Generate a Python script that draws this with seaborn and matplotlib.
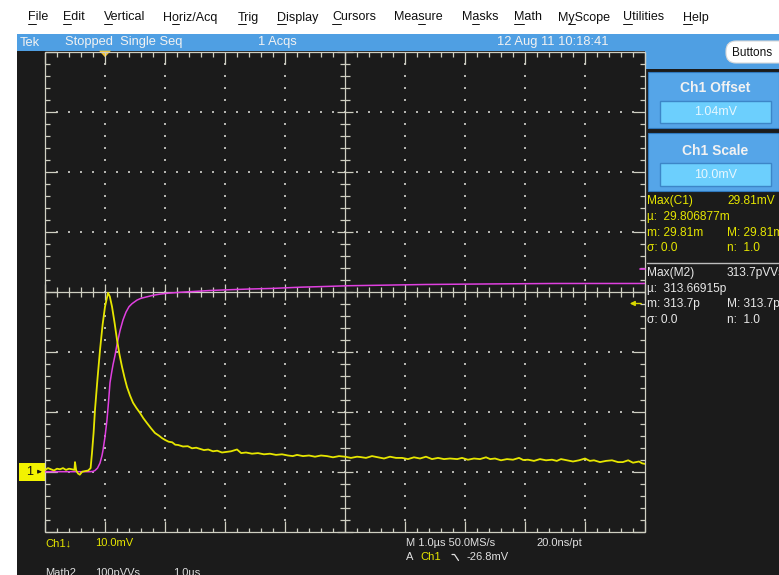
import matplotlib
matplotlib.use("Agg")
import matplotlib.pyplot as plt
import seaborn as sns
from matplotlib import font_manager
from matplotlib.collections import LineCollection
from matplotlib.patches import Rectangle, FancyBboxPatch, Polygon

# ---- acquired waveforms ----
# Ch1 (inverted display), time in microseconds, amplitude in mV
ch1_time_us = [
    -1.00, -0.95, -0.90, -0.85, -0.80, -0.75, -0.70, -0.65, -0.60, -0.55,
    -0.51, -0.50, -0.48, -0.45, -0.42, -0.38, -0.33, -0.28, -0.24, -0.217,
    -0.19, -0.167, -0.125, -0.083, -0.04, 0.0, 0.05, 0.08, 0.117, 0.16,
    0.20, 0.24, 0.283, 0.325, 0.367, 0.417, 0.467, 0.525, 0.583, 0.64,
    0.70, 0.77, 0.833, 0.90, 0.95, 1.00, 1.06, 1.12, 1.17, 1.22,
    1.30, 1.38, 1.45, 1.52, 1.583, 1.65, 1.72, 1.80, 1.87, 1.95,
    2.03, 2.10, 2.20, 2.27, 2.35, 2.45, 2.55, 2.65, 2.75, 2.85,
    2.95, 3.05, 3.13, 3.20, 3.30, 3.40, 3.50, 3.60, 3.70, 3.80,
    3.90, 4.00, 4.10, 4.20, 4.25, 4.35, 4.45, 4.55, 4.65, 4.75,
    4.85, 4.95, 5.05, 5.15, 5.25, 5.35, 5.45, 5.55, 5.65, 5.75,
    5.87, 5.95, 6.05, 6.15, 6.25, 6.35, 6.42, 6.50, 6.60, 6.70,
    6.80, 6.90, 6.97, 7.05, 7.15, 7.25, 7.35, 7.45, 7.53, 7.60,
    7.70, 7.80, 7.90, 8.00, 8.08, 8.15, 8.25, 8.35, 8.45, 8.55,
    8.63, 8.72, 8.80, 8.90, 8.95, 9.00,
]
ch1_mV = [
    0.3, 0.6, 0.4, 0.2, 0.5, 0.4, 0.6, 0.3, 0.5, 0.4,
    0.3, 1.6, 0.2, -0.3, -0.5, 0.0, 0.1, 0.2, 0.6, 3.1,
    6.5, 10.3, 15.5, 20.3, 24.5, 27.5, 29.81, 29.2, 27.5, 24.8,
    22.0, 19.6, 17.5, 15.7, 14.1, 12.7, 11.5, 10.6, 9.8, 8.9,
    8.1, 7.2, 6.45, 6.0, 5.6, 5.3, 5.0, 4.9, 4.5, 4.45,
    4.2, 4.25, 3.9, 4.0, 3.8, 3.6, 3.7, 3.4, 3.5, 3.2,
    3.3, 3.4, 3.7, 3.1, 3.2, 3.0, 3.1, 2.9, 3.0, 2.8,
    2.9, 2.7, 2.6, 2.8, 2.6, 2.7, 2.5, 2.7, 2.6, 2.4,
    2.6, 2.5, 2.3, 2.5, 2.45, 2.3, 2.6, 2.4, 2.2, 2.5,
    2.3, 2.3, 2.1, 2.4, 2.2, 2.5, 2.1, 2.3, 2.1, 2.2,
    2.1, 2.3, 2.0, 2.2, 2.1, 2.4, 2.1, 2.2, 1.9, 2.1,
    2.0, 2.3, 1.95, 2.0, 1.8, 2.1, 1.9, 2.0, 1.8, 2.1,
    1.9, 1.7, 1.9, 2.2, 1.8, 1.9, 1.6, 1.8, 1.9, 1.6,
    1.6, 1.9, 1.5, 1.7, 1.4, 1.3,
]

# Math2 = integral of Ch1, in pV*s
math2_time_us = [
    -1.00, -0.50, -0.25, -0.20, -0.167, -0.125, -0.083, -0.05, -0.033, 0.0,
    0.033, 0.06, 0.083, 0.11, 0.133, 0.167, 0.20, 0.25, 0.30, 0.35,
    0.40, 0.45, 0.533, 0.60, 0.70, 0.80, 0.917, 1.05, 1.25, 1.50,
    1.75, 2.00, 2.42, 2.80, 3.25, 3.60, 4.08, 4.60, 5.33, 6.00,
    6.50, 7.50, 9.00,
]
math2_pVs = [
    0.0, 0.0, 0.0, 0.5, 2.0, 6.0, 14.5, 27.0, 36.0, 58.0,
    86.0, 118.0, 148.0, 165.0, 178.0, 194.0, 212.0, 235.0, 253.0, 266.0,
    275.0, 280.0, 286.0, 289.0, 291.5, 294.0, 296.0, 297.5, 299.0, 300.5,
    302.0, 303.0, 304.5, 305.5, 307.5, 308.5, 310.0, 310.8, 312.0, 312.6,
    313.0, 313.7, 313.7,
]

# ---- instrument settings shown on screen ----
menu_items = ["File", "Edit", "Vertical", "Horiz/Acq", "Trig", "Display", "Cursors",
              "Measure", "Masks", "Math", "MyScope", "Utilities", "Help"]
menu_underline = [0, 0, 0, 1, 0, 0, 0, 3, 1, 0, 1, 0, 0]
menu_x = [28, 63, 104, 163, 238, 277, 332, 394, 462, 514, 558, 623, 683]

ch1_scale_mV = 10.0          # per division
math2_scale_pVs = 100.0      # per division
time_scale_us = 1.0          # per division
ground_div = -3              # ground level, divisions from screen centre
trig_pos_div = 1             # trigger position, divisions from left edge

# ---- colours ----
SCREEN = "#1b1b1b"
GRAT = "#cfcfc2"
DOT = "#b4b4b0"
YEL = "#e6e600"
MAG = "#e040e0"
BLUE = "#4f9fe3"
PANEL = "#55a5e8"
VALBOX = "#6ccffd"
WHITE_TXT = "#f2f2f2"

sns.set_style("dark")
narrow = [f.name for f in font_manager.fontManager.ttflist if f.name == "Liberation Sans Narrow"]
plt.rcParams["font.family"] = ["Liberation Sans", "DejaVu Sans"]
STATUS_FAMILY = ["Liberation Sans Narrow", "Liberation Sans", "DejaVu Sans"] if narrow else ["Liberation Sans", "DejaVu Sans"]
STATUS_SIZE = 10.8 if narrow else 9.3

W, H = 779, 575
fig = plt.figure(figsize=(W / 100, H / 100), dpi=100)
fig.patch.set_facecolor("white")

ui = fig.add_axes([0, 0, 1, 1])
ui.set_xlim(0, W)
ui.set_ylim(H, 0)
ui.axis("off")

# menu bar
renderer = fig.canvas.get_renderer()
for label, x, u in zip(menu_items, menu_x, menu_underline):
    ui.text(x, 17.5, label, fontsize=9, color="#101010", va="center", ha="left")
    pre = ui.text(x, 17.5, label[:u], fontsize=9, va="center", ha="left")
    upto = ui.text(x, 17.5, label[:u + 1], fontsize=9, va="center", ha="left")
    x0 = x + (pre.get_window_extent(renderer).width if u > 0 else 0)
    x1 = x + upto.get_window_extent(renderer).width
    pre.remove()
    upto.remove()
    ui.plot([x0, x1], [23.5, 23.5], color="#101010", lw=0.7)

# status bar and screen
ui.add_patch(Rectangle((17, 34), W - 17, 16.7, facecolor=BLUE, edgecolor="none"))
ui.add_patch(Rectangle((17, 50.7), W - 17, H - 50.7, facecolor=SCREEN, edgecolor="none"))
for txt, x in [("Tek", 20), ("Stopped  Single Seq", 65), ("1 Acqs", 258),
               ("12 Aug 11 10:18:41", 497)]:
    ui.text(x, 42.5, txt, fontsize=STATUS_SIZE, family=STATUS_FAMILY, color=WHITE_TXT,
            va="center", ha="left")

# right-hand control panel
ui.add_patch(Rectangle((645, 50.7), W - 645, 18, facecolor=BLUE, edgecolor="none"))
ui.add_patch(FancyBboxPatch((726, 41), 70, 22, boxstyle="round,pad=0,rounding_size=10",
                            facecolor="white", edgecolor="#d8d8d8", lw=0.8))
ui.text(732, 52.5, "Buttons", fontsize=8.5, color="#111111", va="center", ha="left")
for (py0, py1, title, ty, value, by0, by1) in [
        (71.7, 128.3, "Ch1 Offset", 87.5, "1.04mV", 100.7, 123.3),
        (133.3, 190.7, "Ch1 Scale", 150.8, "10.0mV", 163.3, 186.0)]:
    ui.add_patch(Rectangle((648, py0), W - 648, py1 - py0, facecolor=PANEL,
                           edgecolor="#2f78bd", lw=0.8))
    ui.text(715, ty, title, fontsize=10, fontweight="bold", color=WHITE_TXT,
            va="center", ha="center")
    ui.add_patch(Rectangle((660, by0), 111, by1 - by0, facecolor=VALBOX,
                           edgecolor="#3c86c8", lw=1.0))
    ui.text(715.5, (by0 + by1) / 2, value, fontsize=9, color="#e6f7ff",
            va="center", ha="center")

# measurement readouts
meas_rows = [
    (200.7, "Max(C1)", "29.81mV", YEL),
    (216.7, "\u00b5:  29.806877m", "", YEL),
    (232.7, "m: 29.81m", "M: 29.81m", YEL),
    (247.7, "\u03c3: 0.0", "n:  1.0", YEL),
    (273.3, "Max(M2)", "313.7pVVs", "#e8e8e8"),
    (289.0, "\u00b5:  313.66915p", "", "#e8e8e8"),
    (304.0, "m: 313.7p", "M: 313.7p", "#e8e8e8"),
    (320.0, "\u03c3: 0.0", "n:  1.0", "#e8e8e8"),
]
for y, left, right, col in meas_rows:
    ui.text(647, y, left, fontsize=8.6, color=col, va="center", ha="left", clip_on=True)
    if right:
        ui.text(727, y, right, fontsize=8.6, color=col, va="center", ha="left", clip_on=True)
ui.plot([647, W], [262.7, 262.7], color="#bdbdbd", lw=1.0)

# ---- graticule ----
GX0, GX1, GY0, GY1 = 45.0, 645.0, 51.7, 531.7
DIV, SUB = 60.0, 12.0
CX, CY = (GX0 + GX1) / 2, (GY0 + GY1) / 2
segs = [[(GX0, GY0), (GX1, GY0)], [(GX1, GY0), (GX1, GY1)],
        [(GX1, GY1), (GX0, GY1)], [(GX0, GY1), (GX0, GY0)],
        [(GX0, CY), (GX1, CY)], [(CX, GY0), (CX, GY1)]]
for i in range(51):
    x = GX0 + i * SUB
    major = i % 5 == 0
    segs.append([(x, GY0), (x, GY0 + (12 if major else 5))])
    segs.append([(x, GY1), (x, GY1 - (11 if major else 4))])
    h = 8 if major else 5
    segs.append([(x, CY - h), (x, CY + h)])
for j in range(41):
    y = GY0 + j * SUB
    major = j % 5 == 0
    segs.append([(GX0, y), (GX0 + (12 if major else 5), y)])
    segs.append([(GX1, y), (GX1 - (12 if major else 5), y)])
    h = 8 if major else 5
    segs.append([(CX - h, y), (CX + h, y)])
ui.add_collection(LineCollection(segs, colors=GRAT, linewidths=0.9))

dots_x, dots_y = [], []
for k in range(1, 10):
    if k == 5:
        continue
    x = GX0 + k * DIV
    for j in range(1, 40):
        dots_x.append(x)
        dots_y.append(GY0 + j * SUB)
for k in range(1, 8):
    if k == 4:
        continue
    y = GY0 + k * DIV
    for i in range(1, 50):
        dots_x.append(GX0 + i * SUB)
        dots_y.append(y)
ui.scatter(dots_x, dots_y, s=1.3, marker="s", color=DOT, linewidths=0)

# trigger position marker (top) and trigger level arrow (right edge)
tx = GX0 + trig_pos_div * DIV
ui.add_patch(Polygon([(tx - 6, GY0 - 1), (tx + 6, GY0 - 1), (tx, GY0 + 5.5)],
                     closed=True, facecolor="#f2c22a", edgecolor="none"))
ui.annotate("", xy=(627, 303.5), xytext=(644, 303.5),
            arrowprops=dict(arrowstyle="-|>", color="#d8d800", lw=1.0,
                            mutation_scale=7))
ui.plot([640, 645], [268.5, 268.5], color=MAG, lw=1.2)

# ground marker for Ch1
gy = CY - ground_div * DIV
ui.add_patch(Rectangle((19, gy - 8.8), 26, 17.6, facecolor="#f2f200", edgecolor="none"))
ui.text(30, gy, "1", fontsize=9, color="#111111", va="center", ha="center")
ui.annotate("", xy=(44.5, gy), xytext=(37, gy),
            arrowprops=dict(arrowstyle="-|>", color="#111111", lw=0.8, mutation_scale=5))

# bottom readouts
ui.text(45, 543, "Ch1\u2193", fontsize=8, color=YEL, va="center", ha="left")
ui.text(95, 543, "10.0mV", fontsize=8, color=YEL, va="center", ha="left")
ui.text(45, 567.5, "Math2", fontsize=8, color="#e0e0e0", va="top", ha="left")
ui.text(95, 567.5, "100pVVs", fontsize=8, color="#e0e0e0", va="top", ha="left")
ui.text(173, 567.5, "1.0\u00b5s", fontsize=8, color="#e0e0e0", va="top", ha="left")
ui.text(406, 543, "M 1.0\u00b5s 50.0MS/s", fontsize=8, color="#e0e0e0", va="center", ha="left")
ui.text(536, 543, "20.0ns/pt", fontsize=8, color="#e0e0e0", va="center", ha="left")
ui.text(406, 557.5, "A", fontsize=8, color="#e0e0e0", va="center", ha="left")
ui.text(420, 557.5, "Ch1", fontsize=8, color=YEL, va="center", ha="left")
ui.plot([452, 454.5, 458.5], [554.5, 554.5, 560.5], color="#e0e0e0", lw=0.9)
ui.text(467, 557.5, "-26.8mV", fontsize=8, color="#e0e0e0", va="center", ha="left")

# ---- waveform axes on the graticule ----
pos = [GX0 / W, (H - GY1) / H, (GX1 - GX0) / W, (GY1 - GY0) / H]
ax = fig.add_axes(pos)
ax.patch.set_alpha(0)
ax2 = ax.twinx()

sns.lineplot(x=math2_time_us, y=math2_pVs, ax=ax2, color=MAG, lw=1.1,
             estimator=None, sort=False)
sns.lineplot(x=ch1_time_us, y=ch1_mV, ax=ax, color=YEL, lw=1.3,
             estimator=None, sort=False)
ax.set_zorder(ui.get_zorder() + 1)
for a in (ax, ax2):
    a.set_axis_off()
t_left = -trig_pos_div * time_scale_us
ax.set_xlim(t_left, t_left + 10 * time_scale_us)
ax.set_ylim(-(ground_div + 4) * ch1_scale_mV, (4 - ground_div) * ch1_scale_mV)
ax2.set_ylim(-(ground_div + 4) * math2_scale_pVs, (4 - ground_div) * math2_scale_pVs)

fig.savefig("out.png", dpi=100, facecolor=fig.get_facecolor())
